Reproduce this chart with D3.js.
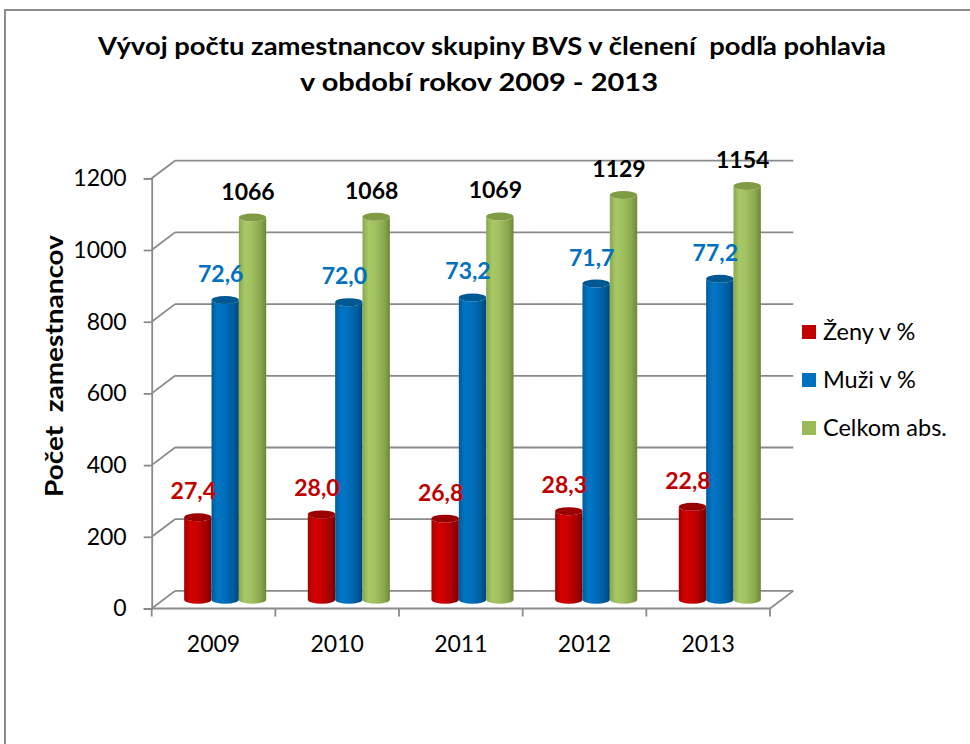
<!DOCTYPE html>
<html>
<head>
<meta charset="utf-8">
<script src="https://cdnjs.cloudflare.com/ajax/libs/d3/7.8.5/d3.min.js"></script>
<style>
  html, body { margin: 0; padding: 0; background: #fff; }
  svg { display: block; }
  text { font-family: Lato, "Liberation Sans", Arial, sans-serif; }
</style>
</head>
<body>
<script>
// ---- data ----
const years = ["2009", "2010", "2011", "2012", "2013"];
const zeny = [230, 238, 226, 247, 259];      // bar heights (persons)
const muzi = [836, 830, 843, 882, 895];      // bar heights (persons)
const celkom = [1066, 1068, 1069, 1129, 1154];
const zenyPct = [27.4, 28.0, 26.8, 28.3, 22.8];
const muziPct = [72.6, 72.0, 73.2, 71.7, 77.2];
const seriesNames = ["Ženy v %", "Muži v %", "Celkom abs."];
const yTicks = [0, 200, 400, 600, 800, 1000, 1200];
const titleLines = ["Vývoj počtu zamestnancov skupiny BVS v členení  podľa pohlavia", "v období rokov 2009 - 2013"];
const yTitle = "Počet  zamestnancov";

// ---- layout ----
const W = 970, H = 744;
const DX = 23.3, DY = -17.6;       // depth offset of the back wall
const GRID = "#8a8a8a";
const FONT = "Lato, 'Liberation Sans', Arial, sans-serif";

const svg = d3.select("body").append("svg").attr("width", W).attr("height", H);

// frame
svg.append("rect").attr("x", 5).attr("y", 10).attr("width", W + 10).attr("height", H + 10)
  .attr("fill", "none").attr("stroke", "#8c8c8c").attr("stroke-width", 2);

const y = d3.scaleLinear().domain([0, 1200]).range([608.5, 178.3]);
const x0 = d3.scaleBand().domain(years).range([151.7, 770]).padding(0);
const x1 = d3.scaleBand().domain(seriesNames).range([20.8, x0.bandwidth() - 20.8]).padding(0);

const fmt = v => d3.format(".1f")(v).replace(".", ",");

const defs = svg.append("defs");
const palettes = [
  { id: "gRed", stops: [["0%", "#a00000"], ["22%", "#d40000"], ["45%", "#cc0000"], ["80%", "#a30000"], ["100%", "#7a0000"]], top: "#9a0000", label: "#c00000", key: "#c00000" },
  { id: "gBlue", stops: [["0%", "#005a9a"], ["22%", "#0076c6"], ["45%", "#0070bd"], ["80%", "#005c9e"], ["100%", "#00477a"]], top: "#005893", label: "#0070c0", key: "#0070c0" },
  { id: "gGreen", stops: [["0%", "#88a84e"], ["22%", "#a8c866"], ["45%", "#a2c160"], ["80%", "#89a74d"], ["100%", "#6c8838"]], top: "#7f9c45", label: "#000000", key: "#9bbb59" }
];
palettes.forEach(p => {
  const g = defs.append("linearGradient").attr("id", p.id).attr("x1", "0").attr("x2", "1").attr("y1", "0").attr("y2", "0");
  p.stops.forEach(s => g.append("stop").attr("offset", s[0]).attr("stop-color", s[1]));
});

// ---- back wall gridlines + left diagonals ----
const grid = svg.append("g").attr("stroke", GRID).attr("stroke-width", 1.8).attr("fill", "none");
yTicks.forEach(t => {
  grid.append("line").attr("x1", 151.7 + DX).attr("x2", 770 + DX)
    .attr("y1", y(t) + DY).attr("y2", y(t) + DY);
  grid.append("line").attr("x1", 151.7).attr("x2", 151.7 + DX)
    .attr("y1", y(t)).attr("y2", y(t) + DY);
});
// floor front edge and right diagonal
grid.append("line").attr("x1", 151.7).attr("x2", 770).attr("y1", y(0)).attr("y2", y(0));
grid.append("line").attr("x1", 770).attr("x2", 770 + DX).attr("y1", y(0)).attr("y2", y(0) + DY);
// category boundary ticks
const bounds = years.map(d => x0(d)).concat([x0(years[years.length - 1]) + x0.bandwidth()]);
bounds.forEach(b => {
  grid.append("line").attr("x1", b).attr("x2", b).attr("y1", y(0)).attr("y2", y(0) + 8);
});

// ---- y axis ----
const yAxis = d3.axisLeft(y).tickValues(yTicks).tickSize(8).tickPadding(17).tickFormat(d3.format("d"));
const ya = svg.append("g").attr("transform", "translate(151.7,0)").call(yAxis);
ya.select(".domain").attr("stroke", GRID).attr("stroke-width", 1.8);
ya.selectAll(".tick line").attr("stroke", GRID).attr("stroke-width", 1.8);
ya.selectAll(".tick text").attr("font-size", 23).attr("fill", "#000").attr("font-family", FONT);

// ---- x axis labels ----
const xAxis = d3.axisBottom(x0).tickSize(0).tickPadding(27);
const xa = svg.append("g").attr("transform", `translate(0,${y(0)})`).call(xAxis);
xa.select(".domain").remove();
xa.selectAll(".tick text").attr("font-size", 23).attr("fill", "#000").attr("font-family", FONT);

// ---- cylinders ----
const series = [
  { name: seriesNames[0], vals: zeny, labels: zenyPct.map(fmt), pal: palettes[0] },
  { name: seriesNames[1], vals: muzi, labels: muziPct.map(fmt), pal: palettes[1] },
  { name: seriesNames[2], vals: celkom, labels: celkom.map(d => String(d)), pal: palettes[2] }
];
const bw = x1.bandwidth();
const rx = bw / 2, ry = 4;
const bars = svg.append("g");
const labelsG = svg.append("g");
years.forEach((yr, i) => {
  series.forEach(s => {
    const left = x0(yr) + x1(s.name) + DX / 2;
    const right = left + bw;
    const cx = left + rx;
    const top = y(s.vals[i]) + DY / 2;
    const bot = y(0) + DY / 2;
    bars.append("path")
      .attr("d", `M${left},${top} L${left},${bot} A${rx},${ry} 0 0 0 ${right},${bot} L${right},${top} A${rx},${ry} 0 0 1 ${left},${top} Z`)
      .attr("fill", `url(#${s.pal.id})`);
    bars.append("ellipse").attr("cx", cx).attr("cy", top).attr("rx", rx).attr("ry", ry)
      .attr("fill", s.pal.top);
    labelsG.append("text")
      .attr("x", cx - 4.5).attr("y", top - 18)
      .attr("text-anchor", "middle").attr("font-size", 23).attr("font-weight", "bold")
      .attr("fill", s.pal.label).text(s.labels[i]);
  });
});

// ---- titles ----
svg.append("text").attr("x", 492).attr("y", 55).attr("text-anchor", "middle")
  .attr("font-size", 24).attr("font-weight", "bold").style("white-space", "pre")
  .attr("textLength", 788).attr("lengthAdjust", "spacingAndGlyphs").text(titleLines[0]);
svg.append("text").attr("x", 479).attr("y", 91).attr("text-anchor", "middle")
  .attr("font-size", 24).attr("font-weight", "bold").style("white-space", "pre")
  .attr("textLength", 358).attr("lengthAdjust", "spacingAndGlyphs").text(titleLines[1]);

svg.append("text").attr("transform", "translate(63,366) rotate(-90)").attr("text-anchor", "middle")
  .attr("font-size", 24).attr("font-weight", "bold").style("white-space", "pre")
  .attr("textLength", 262).attr("lengthAdjust", "spacingAndGlyphs").text(yTitle);

// ---- legend ----
const legY = [332, 380, 428];
const leg = svg.append("g");
series.forEach((s, k) => {
  leg.append("rect").attr("x", 802).attr("y", legY[k] - 7).attr("width", 14).attr("height", 14)
    .attr("fill", s.pal.key);
  leg.append("text").attr("x", 823).attr("y", legY[k]).attr("dy", "0.35em")
    .attr("font-size", 23.5).attr("fill", "#000").text(s.name);
});
</script>
</body>
</html>
